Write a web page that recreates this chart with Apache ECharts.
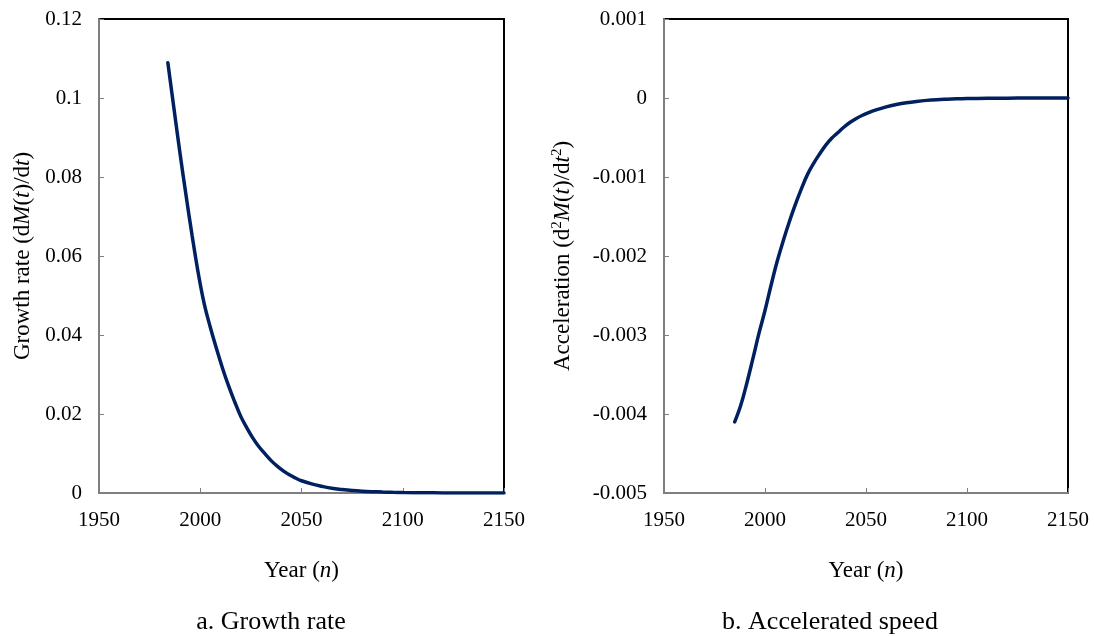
<!DOCTYPE html>
<html><head><meta charset="utf-8">
<script src="https://cdn.jsdelivr.net/npm/echarts@6/dist/echarts.min.js"></script>
<style>html,body{margin:0;padding:0;background:#fff}#c{width:1094px;height:636px}</style>
</head><body><div id="c"></div>
<script>
// Panel a: growth rate dM(t)/dt
const yearsA = [1984,1987,1990,1993,1996,1999,2002,2005,2008,2011,2014,2017,2020,2023,2026,2029,2032,2035,2038,2041,2044,2047,2050,2055,2060,2065,2070,2075,2080,2085,2090,2095,2100,2110,2120,2130,2140,2150];
const growthRate = [0.1089,0.0974,0.0860,0.0753,0.0651,0.0557,0.0478,0.0419,0.0366,0.0316,0.0271,0.0231,0.0194,0.0165,0.0139,0.0117,0.0099,0.0082,0.0068,0.0056,0.0046,0.0038,0.0031,0.0023,0.0017,0.0012,0.0009,0.00065,0.00047,0.00034,0.00024,0.00017,0.00012,0.00006,0.00003,0.000015,0.000008,0.000004];
// Panel b: acceleration d2M(t)/dt2
const yearsB = [1985,1988,1991,1994,1997,2000,2003,2006,2009,2012,2015,2018,2021,2024,2027,2030,2033,2036,2039,2042,2045,2048,2051,2055,2060,2065,2070,2075,2080,2085,2090,2095,2100,2110,2120,2130,2140,2150];
const acceleration = [-0.00410,-0.00389,-0.00361,-0.00330,-0.00298,-0.00269,-0.00237,-0.00207,-0.00181,-0.00157,-0.00135,-0.00115,-0.00097,-0.00083,-0.00071,-0.00060,-0.00051,-0.00044,-0.00037,-0.00031,-0.000262,-0.000222,-0.000188,-0.000150,-0.000112,-0.000083,-0.000060,-0.000043,-0.000030,-0.000021,-0.000015,-0.00001,-0.000007,-0.0000035,-0.0000017,-0.0000008,-0.0000004,-0.0000002];
const xTicks = [1950,2000,2050,2100,2150];
const captions = ['a. Growth rate','b. Accelerated speed'];

const font = 'Liberation Serif';
const lineColor = '#002060';
const axisGrey = '#7f7f7f';
const rich = {
  n: {fontFamily: font, fontSize: 23, color: '#000'},
  i: {fontFamily: font, fontSize: 23, fontStyle: 'italic', color: '#000'},
  s: {fontFamily: font, fontSize: 15, color: '#000', verticalAlign: 'top', padding: [0,0,10,0]}
};
function xAx(gi){
  return {type:'value', gridIndex:gi, min:xTicks[0], max:xTicks[xTicks.length-1], interval:50,
    axisLine:{onZero:false,lineStyle:{color:axisGrey,width:2}},
    axisTick:{inside:true,length:5,lineStyle:{color:axisGrey,width:1}},
    axisLabel:{fontFamily:font,fontSize:21,color:'#000',margin:17,formatter:v=>String(v)},
    splitLine:{show:false},
    name:'{n|Year (}{i|n}{n|)}', nameLocation:'middle', nameGap:66,
    nameTextStyle:{rich:rich}};
}
function yAx(gi,min,max,step,name,gap){
  return {type:'value', gridIndex:gi, min:min, max:max, interval:step,
     axisLine:{show:true,onZero:false,lineStyle:{color:axisGrey,width:2}},
     axisTick:{show:true,inside:true,length:5,lineStyle:{color:axisGrey,width:1}},
     axisLabel:{fontFamily:font,fontSize:21,color:'#000',margin:17,formatter:v=>String(+v.toFixed(6))},
     splitLine:{show:false},
     name:name, nameLocation:'middle', nameGap:gap,
     nameTextStyle:{rich:rich}};
}
const chart = echarts.init(document.getElementById('c'), null, {renderer:'canvas'});
chart.setOption({
  animation:false,
  backgroundColor:'#fff',
  grid:[
    {left:99, top:19, width:405, height:474, show:true, borderColor:'#000', borderWidth:2},
    {left:664, top:19, width:404, height:474, show:true, borderColor:'#000', borderWidth:2}
  ],
  xAxis:[xAx(0), xAx(1)],
  yAxis:[
    yAx(0,0,0.12,0.02,'{n|Growth rate (d}{i|M}{n|(}{i|t}{n|)/d}{i|t}{n|)}',65),
    yAx(1,-0.005,0.001,0.001,'{n|Acceleration (d}{s|2}{i|M}{n|(}{i|t}{n|)/d}{i|t}{s|2}{n|)}',89)
  ],
  graphic:[
    {type:'text', x:271, y:622, style:{text:captions[0], font:'26px "Liberation Serif"', fill:'#000', align:'center', verticalAlign:'middle'}},
    {type:'text', x:830, y:622, style:{text:captions[1], font:'26px "Liberation Serif"', fill:'#000', align:'center', verticalAlign:'middle'}}
  ],
  series:[
    {type:'line', xAxisIndex:0, yAxisIndex:0, showSymbol:false, smooth:0.4,
     lineStyle:{color:lineColor,width:3.5,cap:'round'},
     data: yearsA.map((y,i)=>[y,growthRate[i]])},
    {type:'line', xAxisIndex:1, yAxisIndex:1, showSymbol:false, smooth:0.4,
     lineStyle:{color:lineColor,width:3.5,cap:'round'},
     data: yearsB.map((y,i)=>[y,acceleration[i]])}
  ]
});
</script></body></html>
